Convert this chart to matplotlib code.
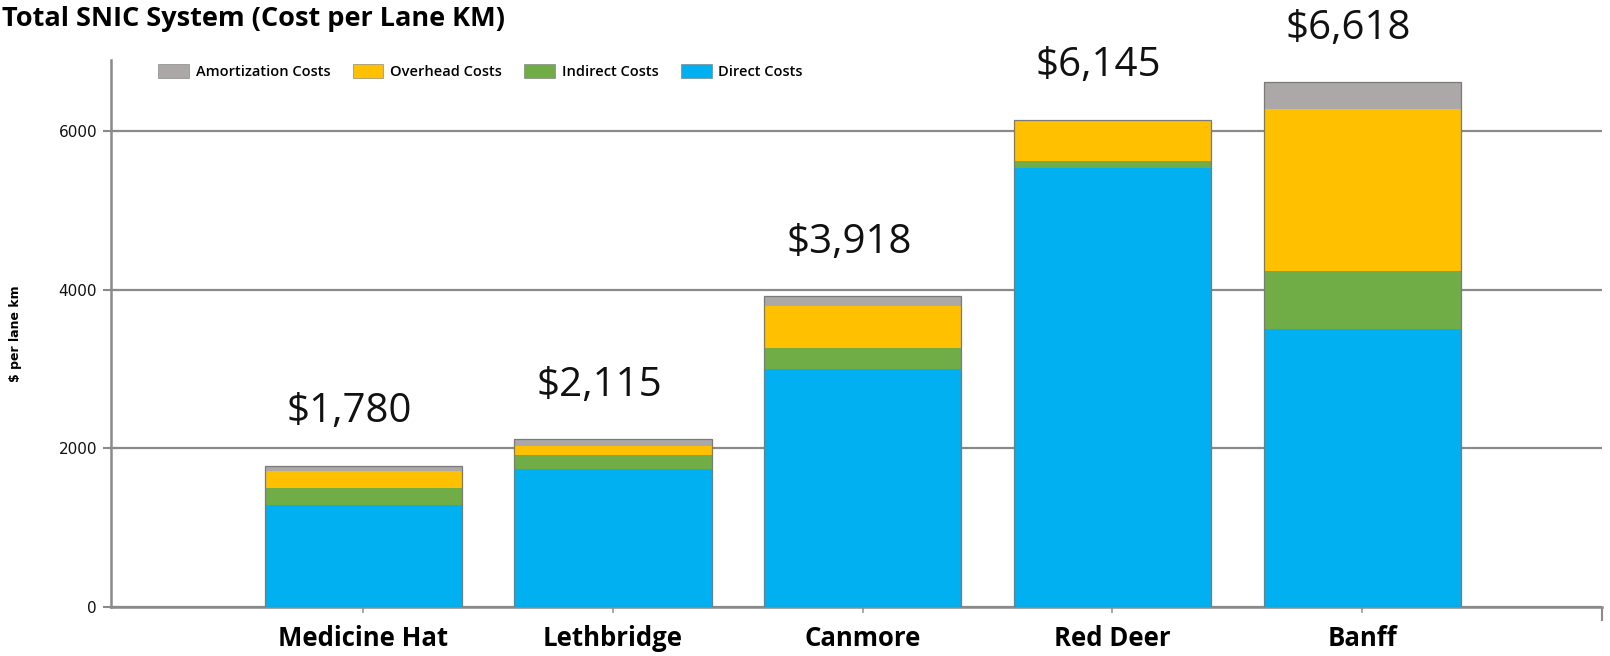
import matplotlib
matplotlib.use("Agg")
import matplotlib.pyplot as plt
import numpy as np

categories = ["Medicine Hat", "Lethbridge", "Canmore", "Red Deer", "Banff"]
direct = [1290, 1740, 3000, 5535, 3510]
indirect = [210, 175, 270, 85, 720]
overhead = [210, 115, 530, 525, 2050]
amortization = [70, 85, 118, 0, 338]
total_labels = ["$1,780", "$2,115", "$3,918", "$6,145", "$6,618"]
yticks = [0, 2000, 4000, 6000]

series = [
    ("Direct Costs", direct, "#00B0F0"),
    ("Indirect Costs", indirect, "#70AD47"),
    ("Overhead Costs", overhead, "#FFC000"),
    ("Amortization Costs", amortization, "#ABA8A7"),
]

fig = plt.figure(figsize=(16.10, 6.56), dpi=100)
ax = fig.add_axes([0.0689, 0.0747, 0.9261, 0.8343])

x = np.arange(len(categories))
width = 0.79
bottom = np.zeros(len(categories))
handles = {}
for name, vals, col in series:
    vals = np.array(vals, dtype=float)
    h = ax.bar(x, vals, width, bottom=bottom, color=col, linewidth=0, zorder=3, label=name)
    handles[name] = h
    bottom += vals
ax.bar(x, bottom, width, fill=False, edgecolor="#7a7a7a", linewidth=0.9, zorder=4)

ax.set_xlim(-1.01, 4.96)
ax.set_ylim(0, 6900)

ax.set_yticks(yticks)
ax.set_yticklabels([str(t) for t in yticks], fontsize=11, family="DejaVu Sans", color="#111111")
ax.yaxis.grid(True, color="#8a8a8a", linewidth=1.6, zorder=1)
ax.set_axisbelow(True)
ax.tick_params(axis="y", direction="inout", length=12, width=1.5, color="#8a8a8a", pad=4)

ax.set_xticks(x)
ax.set_xticklabels(categories, fontsize=18.5, fontweight="bold", family="Open Sans")
ax.tick_params(axis="x", direction="out", length=4, width=1.2, color="#9a9a9a", pad=9)
ax.set_xticks([4.96], minor=True)
ax.tick_params(axis="x", which="minor", direction="out", length=10, width=1.5, color="#8a8a8a")

for s in ["top", "right"]:
    ax.spines[s].set_visible(False)
for s in ["left", "bottom"]:
    ax.spines[s].set_color("#8a8a8a")
    ax.spines[s].set_linewidth(1.8)

ax.set_ylabel("$ per lane km", fontsize=9, fontweight="bold", family="DejaVu Sans", labelpad=26)

for xi, tot, lab in zip(x, bottom, total_labels):
    ax.annotate(lab, (xi, tot), xytext=(-10, 24), textcoords="offset points",
                ha="center", va="bottom", fontsize=29, family="Open Sans", color="#111111", zorder=6)

order = ["Amortization Costs", "Overhead Costs", "Indirect Costs", "Direct Costs"]
leg = ax.legend([handles[n] for n in order], order, loc="upper left",
                bbox_to_anchor=(0.025, 1.01), ncol=4, frameon=False,
                prop={"family": "Open Sans", "size": 10.5, "weight": "semibold"},
                handlelength=2.1, handleheight=1.05, handletextpad=0.45,
                columnspacing=1.55, borderaxespad=0.3)
for p in leg.get_patches():
    p.set_edgecolor("#777777")
    p.set_linewidth(0.4)

fig.text(0.001, 1 - 26 / 656, "Total SNIC System (Cost per Lane KM)", fontsize=19.5,
         fontweight="bold", family="Open Sans", ha="left", va="baseline")

fig.savefig("out.png", dpi=100)
